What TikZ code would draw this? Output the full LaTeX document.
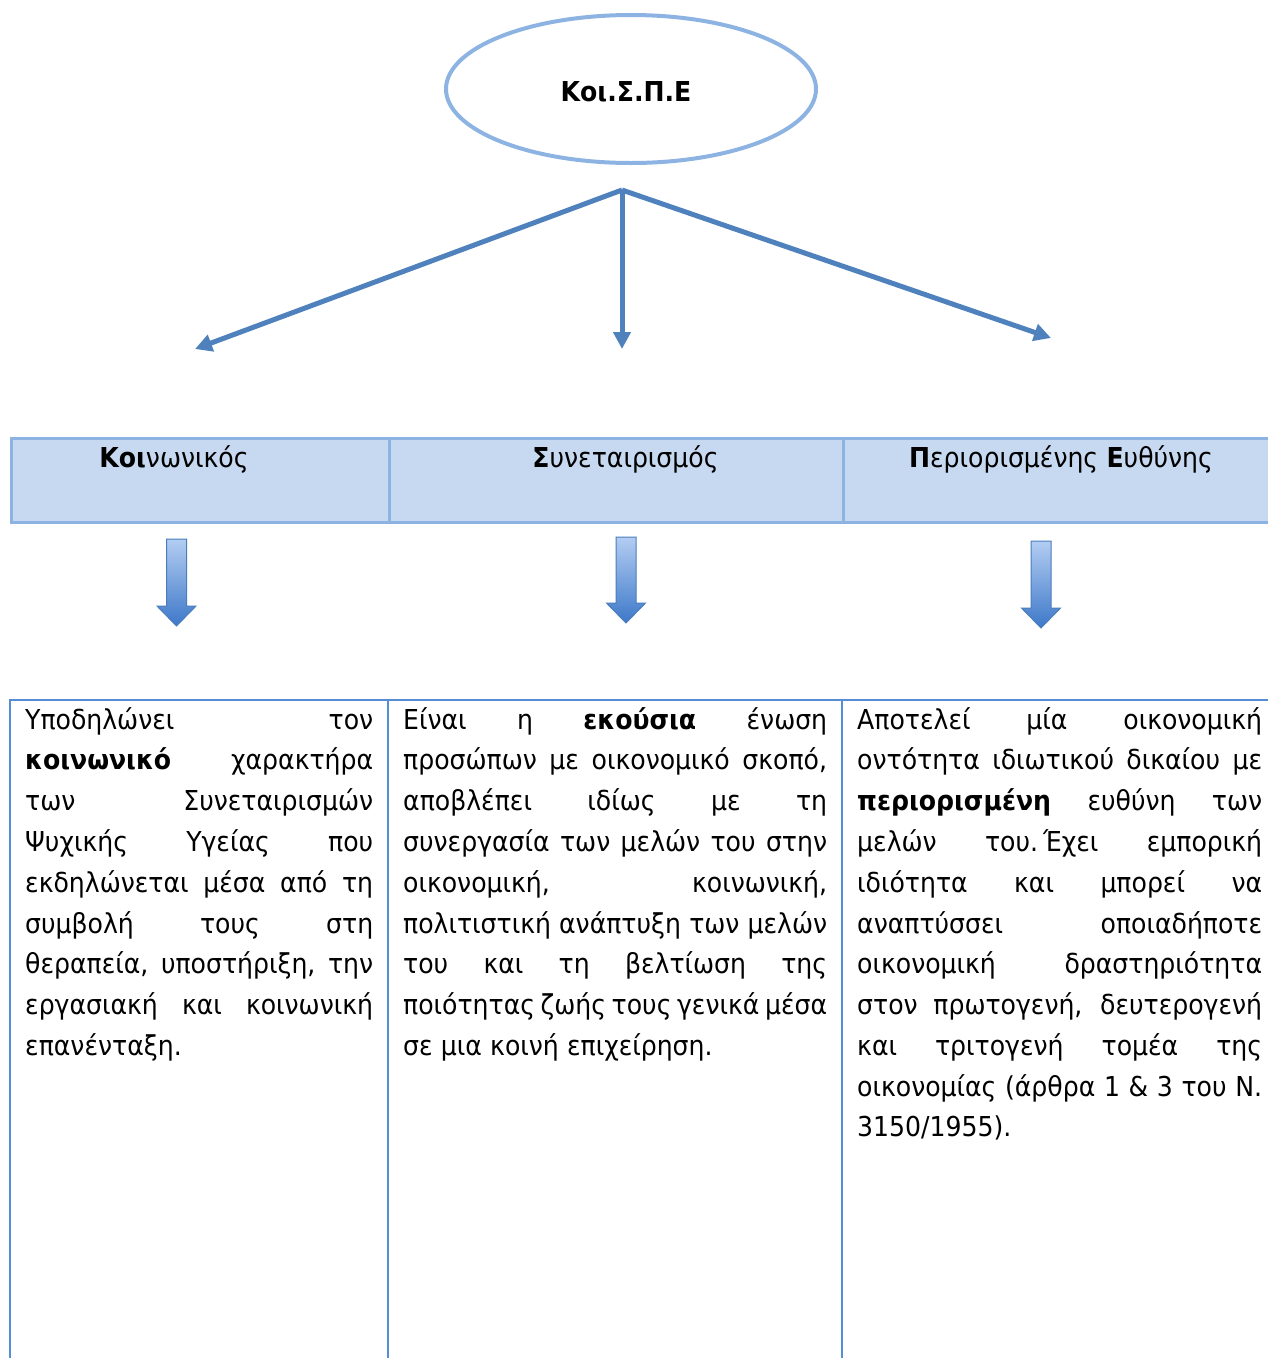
\documentclass[tikz,border=0pt]{standalone}
\usepackage{fontspec}
\setmainfont{DejaVu Sans Condensed}
\usetikzlibrary{arrows.meta,shapes.geometric}
\definecolor{ellblue}{HTML}{8DB3E2}
\definecolor{arrblue}{HTML}{4F81BD}
\definecolor{hdrfill}{HTML}{C6D9F1}
\definecolor{hdrline}{HTML}{8DB3E2}
\definecolor{tblline}{HTML}{558ED5}
\definecolor{baTop}{HTML}{B3CDF2}
\definecolor{baBot}{HTML}{3D78C9}
\definecolor{baLine}{HTML}{4A7EBB}
\newlength\probe
\newlength\colw
\newcommand\jl[1]{{\spaceskip=0.3em plus 1fil minus 0.12em\relax
  \hbox to \colw{#1}}\par}
\newcommand\blockarrow[3]{%
  \path[blockarr] (#1-10,#2) -- (#1+10,#2) -- (#1+10,#3-20) -- (#1+19.5,#3-20)
    -- (#1,#3) -- (#1-19.5,#3-20) -- (#1-10,#3-20) -- cycle;}
\tikzset{
  conn/.style={draw=arrblue, line width=5pt, -{Triangle[length=17pt,width=17pt]}},
  hdrcell/.style={draw=hdrline, fill=hdrfill, line width=2.5pt, anchor=north west,
    minimum height=84pt, inner sep=0pt},
  tbl/.style={draw=tblline, line width=2pt},
  blockarr/.style={draw=baLine, line width=1pt, top color=baTop, bottom color=baBot},
  coltext/.style={anchor=north west, inner sep=0pt, align=left},
}
\AtBeginDocument{%
  \settowidth\probe{\fontsize{10pt}{12pt}\selectfont\spaceskip=0.3em\relax σε μια κοινή επιχείρηση.}%
  \pgfmathsetmacro\stretchval{310/(2.74*\probe)}%
  \xdef\stretchval{\stretchval}%
  \newfontfamily\bodyfam{DejaVu Sans Condensed}[FakeStretch=\stretchval]%
}
\newcommand\bodyfont{\bodyfam\fontsize{27.4pt}{40.77pt}\selectfont\spaceskip=0.3em\relax}
\begin{document}
\begin{tikzpicture}[x=1pt,y=-1pt]
\useasboundingbox (0,0) rectangle (1267,1358);

% ellipse
\node[draw=ellblue, line width=4pt, ellipse, minimum width=370pt, minimum height=148pt,
  inner sep=0pt] (koispe) at (631,89) {};
\node[anchor=base] (koispetext) at (626,101) {\bodyfont\bfseries Κοι.Σ.Π.Ε};

% connectors
\coordinate (hub) at (622,190);
\coordinate (tipL) at (195,349);
\coordinate (tipM) at (622,349);
\coordinate (tipR) at (1051,338);
\draw[conn] (hub) -- (tipL);
\draw[conn] (hub) -- (tipM);
\draw[conn] (hub) -- (tipR);

% header row
\node[hdrcell, minimum width=378pt] (hc1) at (10,437) {};
\node[hdrcell, minimum width=454pt] (hc2) at (388,437) {};
\node[hdrcell, minimum width=440pt] (hc3) at (842,437) {};
\node[anchor=base] (ht1) at (174,467) {\bodyfont\textbf{Κοι}νωνικός};
\node[anchor=base] (ht2) at (625.5,467) {\bodyfont\textbf{Σ}υνεταιρισμός};
\node[anchor=base] (ht3) at (1061,467) {\bodyfont\textbf{Π}εριορισμένης \textbf{Ε}υθύνης};

% block arrows
\blockarrow{176.5}{539}{626}
\blockarrow{626}{537}{623}
\blockarrow{1041}{541}{628}

% text table
\draw[tbl] (10,1362) -- (10,700) -- (1272,700);
\draw[tbl] (388,700) -- (388,1362);
\draw[tbl] (842,700) -- (842,1362);

\node[coltext, text width=348pt] (t1) at (25,699) {\bodyfont\parindent=0pt\colw=348pt
\jl{\rule{0pt}{30pt}Υποδηλώνει τον}
\jl{\textbf{κοινωνικό} χαρακτήρα}
\jl{των Συνεταιρισμών}
\jl{Ψυχικής Υγείας που}
\jl{εκδηλώνεται μέσα από τη}
\jl{συμβολή τους στη}
\jl{θεραπεία, υποστήριξη, την}
\jl{εργασιακή και κοινωνική}
επανένταξη.\par};

\node[coltext, text width=424pt] (t2) at (403,699) {\bodyfont\parindent=0pt\colw=424pt
\jl{\rule{0pt}{30pt}Είναι η \textbf{εκούσια} ένωση}
\jl{προσώπων με οικονομικό σκοπό,}
\jl{αποβλέπει ιδίως με τη}
\jl{συνεργασία των μελών του στην}
\jl{οικονομική, κοινωνική,}
\jl{πολιτιστική ανάπτυξη των μελών}
\jl{του και τη βελτίωση της}
\jl{ποιότητας ζωής τους γενικά μέσα}
σε μια κοινή επιχείρηση.\par};

\node[coltext, text width=405pt] (t3) at (857,699) {\bodyfont\parindent=0pt\colw=405pt
\jl{\rule{0pt}{30pt}Αποτελεί μία οικονομική}
\jl{οντότητα ιδιωτικού δικαίου με}
\jl{\textbf{περιορισμένη} ευθύνη των}
\jl{μελών του. Έχει εμπορική}
\jl{ιδιότητα και μπορεί να}
\jl{αναπτύσσει οποιαδήποτε}
\jl{οικονομική δραστηριότητα}
\jl{στον πρωτογενή, δευτερογενή}
\jl{και τριτογενή τομέα της}
\jl{οικονομίας (άρθρα 1 \& 3 του Ν.}
3150/1955).\par};
\end{tikzpicture}
\end{document}
